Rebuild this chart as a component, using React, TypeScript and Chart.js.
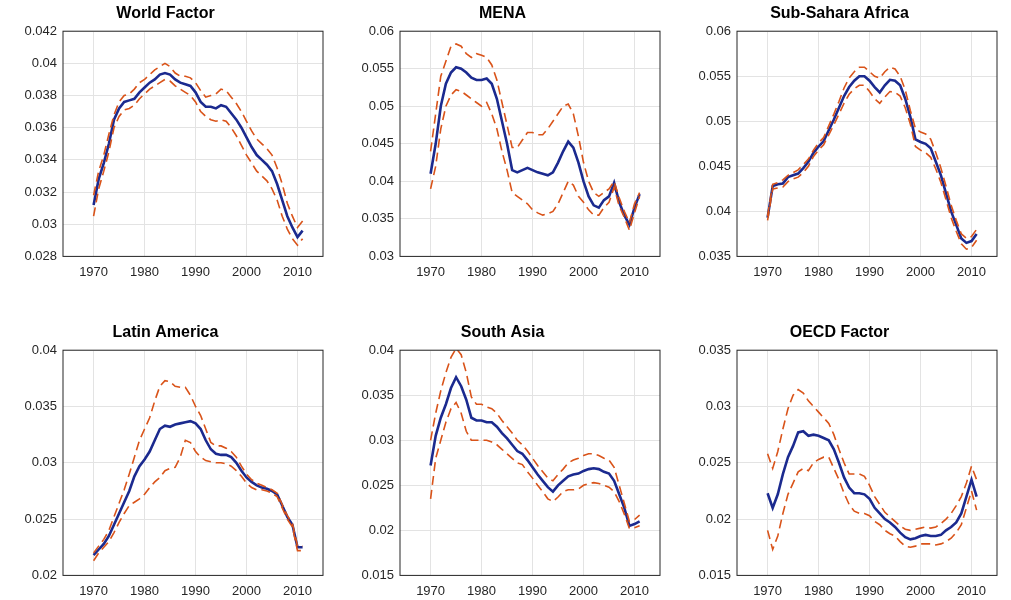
import React, { useRef, useEffect } from "react";
import Chart from "chart.js/auto";

const years = Array.from({ length: 42 }, (_, i) => 1970 + i);

const worldMain = [0.0312,0.0328,0.0338,0.035,0.0365,0.0372,0.0376,0.0377,0.0378,0.0382,0.0385,0.0388,0.039,0.0393,0.0394,0.0393,0.039,0.0388,0.0387,0.0386,0.0382,0.0376,0.0373,0.0373,0.0372,0.0374,0.0373,0.0369,0.0365,0.036,0.0354,0.0348,0.0343,0.034,0.0337,0.0333,0.0325,0.0315,0.0305,0.0298,0.0292,0.0296];
const worldUp = [0.0318,0.0333,0.0343,0.0356,0.0368,0.0376,0.038,0.0381,0.0384,0.0388,0.039,0.0393,0.0396,0.0398,0.04,0.0398,0.0394,0.0392,0.0392,0.0391,0.0388,0.0383,0.0379,0.038,0.0381,0.0384,0.0383,0.0379,0.0375,0.037,0.0364,0.0358,0.0353,0.035,0.0347,0.0343,0.0335,0.0325,0.0313,0.0305,0.0298,0.0302];
const worldLo = [0.0305,0.0322,0.0333,0.0345,0.036,0.0367,0.0371,0.0372,0.0374,0.0378,0.0381,0.0384,0.0386,0.0388,0.039,0.0389,0.0386,0.0384,0.0382,0.038,0.0376,0.037,0.0367,0.0365,0.0364,0.0365,0.0364,0.036,0.0355,0.0349,0.0343,0.0338,0.0333,0.033,0.0327,0.0322,0.0315,0.0305,0.0297,0.0291,0.0287,0.0291];

const menaMain = [0.041,0.045,0.05,0.053,0.0545,0.0552,0.055,0.0545,0.0538,0.0535,0.0535,0.0537,0.053,0.051,0.048,0.045,0.0415,0.0412,0.0415,0.0418,0.0415,0.0412,0.041,0.0408,0.0412,0.0425,0.044,0.0453,0.0445,0.0425,0.04,0.038,0.0368,0.0365,0.0375,0.038,0.0398,0.0372,0.0355,0.0342,0.0365,0.0383];
const menaUp = [0.044,0.049,0.054,0.056,0.058,0.0583,0.058,0.057,0.0565,0.057,0.0568,0.0565,0.0555,0.0535,0.0505,0.0475,0.0445,0.0445,0.0455,0.0465,0.0465,0.0462,0.0462,0.047,0.048,0.049,0.05,0.0503,0.049,0.046,0.0425,0.04,0.0385,0.038,0.0385,0.039,0.04,0.0378,0.036,0.0345,0.037,0.0385];
const menaLo = [0.039,0.042,0.047,0.05,0.0515,0.0522,0.052,0.0515,0.051,0.0505,0.05,0.0505,0.049,0.047,0.044,0.0415,0.0385,0.038,0.0375,0.037,0.0362,0.0358,0.0355,0.0357,0.036,0.037,0.0385,0.04,0.0395,0.038,0.0372,0.0362,0.0355,0.0355,0.0365,0.0372,0.0392,0.0367,0.0352,0.0335,0.0358,0.038];

const ssaMain = [0.0393,0.0428,0.043,0.0431,0.0438,0.044,0.0442,0.0448,0.0455,0.0465,0.0472,0.0478,0.049,0.0502,0.0515,0.0528,0.0538,0.0545,0.055,0.055,0.0545,0.0538,0.0532,0.054,0.0546,0.0545,0.054,0.0525,0.0505,0.048,0.0477,0.0475,0.047,0.0455,0.044,0.042,0.04,0.0385,0.037,0.0365,0.0367,0.0375];
const ssaUp = [0.0395,0.043,0.0432,0.0435,0.044,0.0443,0.0446,0.0452,0.0458,0.0468,0.0476,0.0482,0.0495,0.0508,0.0522,0.0537,0.0548,0.0555,0.056,0.056,0.0555,0.055,0.0548,0.0555,0.056,0.0558,0.055,0.0535,0.0512,0.0492,0.0488,0.0486,0.048,0.0465,0.0448,0.0428,0.0407,0.039,0.0375,0.037,0.0372,0.038];
const ssaLo = [0.039,0.0425,0.0426,0.0427,0.0433,0.0436,0.0438,0.0443,0.045,0.0461,0.0468,0.0474,0.0485,0.0496,0.0508,0.052,0.053,0.0536,0.054,0.054,0.0533,0.0525,0.052,0.0527,0.0533,0.0532,0.0528,0.0515,0.0497,0.0472,0.0468,0.0465,0.046,0.0447,0.0432,0.0413,0.0393,0.0378,0.0364,0.0358,0.036,0.0368];

const latMain = [0.0218,0.0223,0.0228,0.0235,0.0245,0.0255,0.0265,0.0275,0.0288,0.0297,0.0303,0.031,0.032,0.033,0.0333,0.0332,0.0334,0.0335,0.0336,0.0337,0.0335,0.033,0.032,0.0312,0.0308,0.0307,0.0307,0.0305,0.03,0.0293,0.0287,0.0283,0.028,0.0278,0.0277,0.0275,0.0272,0.0262,0.0252,0.0245,0.0225,0.0225];
const latUp = [0.022,0.0226,0.0232,0.024,0.0252,0.0264,0.0276,0.029,0.0305,0.032,0.033,0.034,0.0355,0.0368,0.0373,0.0372,0.0368,0.0367,0.0367,0.036,0.035,0.0342,0.033,0.0318,0.0315,0.0315,0.0313,0.031,0.0305,0.0297,0.029,0.0285,0.0282,0.028,0.0278,0.0276,0.0273,0.0263,0.0253,0.0246,0.0226,0.0226];
const latLo = [0.0213,0.022,0.0225,0.023,0.0238,0.0247,0.0255,0.0262,0.0265,0.0268,0.0272,0.0278,0.0283,0.0287,0.0293,0.0295,0.0296,0.0305,0.032,0.0318,0.031,0.0305,0.0302,0.0301,0.03,0.03,0.0299,0.0297,0.0293,0.0288,0.0282,0.0278,0.0276,0.0276,0.0275,0.0273,0.027,0.026,0.025,0.0243,0.0222,0.0222];

const saMain = [0.0272,0.0305,0.0325,0.034,0.0358,0.037,0.036,0.0345,0.0325,0.0322,0.0322,0.032,0.032,0.0315,0.0308,0.0302,0.0295,0.0288,0.0285,0.0278,0.027,0.0262,0.0255,0.0248,0.0243,0.025,0.0255,0.026,0.0262,0.0263,0.0266,0.0268,0.0269,0.0268,0.0265,0.0263,0.0255,0.024,0.0225,0.0205,0.0207,0.021];
const saUp = [0.03,0.033,0.0355,0.0375,0.0392,0.0402,0.0395,0.0375,0.0348,0.034,0.034,0.0337,0.0335,0.033,0.0322,0.0315,0.0308,0.03,0.0295,0.0288,0.028,0.0272,0.0265,0.0258,0.0255,0.0262,0.0268,0.0275,0.0278,0.028,0.0283,0.0285,0.0285,0.0283,0.028,0.0278,0.027,0.025,0.023,0.021,0.0212,0.0217];
const saLo = [0.0235,0.028,0.03,0.032,0.0335,0.0342,0.033,0.031,0.03,0.03,0.03,0.03,0.0298,0.0295,0.029,0.0285,0.028,0.0275,0.0273,0.0265,0.0258,0.025,0.0243,0.0235,0.0232,0.0237,0.0243,0.0245,0.0245,0.0246,0.025,0.0252,0.0253,0.0252,0.025,0.0248,0.0243,0.0232,0.0218,0.0202,0.0203,0.0205];

const oecdMain = [0.0223,0.021,0.0222,0.024,0.0255,0.0265,0.0277,0.0278,0.0274,0.0275,0.0274,0.0272,0.027,0.0262,0.025,0.0237,0.0228,0.0223,0.0223,0.0222,0.0218,0.021,0.0205,0.02,0.0197,0.0193,0.0188,0.0184,0.0182,0.0183,0.0185,0.0186,0.0185,0.0185,0.0186,0.019,0.0193,0.0197,0.0205,0.022,0.0235,0.022];
const oecdUp = [0.0258,0.0245,0.026,0.028,0.0298,0.031,0.0315,0.0312,0.0305,0.03,0.0295,0.029,0.0285,0.0275,0.0262,0.025,0.024,0.024,0.024,0.0238,0.023,0.022,0.0213,0.0206,0.0202,0.0198,0.0194,0.0191,0.019,0.0191,0.0192,0.0193,0.0192,0.0193,0.0196,0.02,0.0205,0.0212,0.022,0.0232,0.0247,0.0235];
const oecdLo = [0.019,0.0173,0.0185,0.0205,0.0222,0.0232,0.0242,0.0245,0.0243,0.025,0.0253,0.0255,0.0255,0.0245,0.0235,0.0223,0.0213,0.0207,0.0205,0.0205,0.0203,0.0198,0.0195,0.019,0.0187,0.0185,0.018,0.0176,0.0175,0.0176,0.0178,0.0178,0.0178,0.0177,0.0178,0.018,0.0183,0.0188,0.0195,0.021,0.0225,0.0208];

const panels = [
  { title: "World Factor", main: worldMain, up: worldUp, lo: worldLo, min: 0.028, max: 0.042, step: 0.002 },
  { title: "MENA", main: menaMain, up: menaUp, lo: menaLo, min: 0.03, max: 0.06, step: 0.005 },
  { title: "Sub-Sahara Africa", main: ssaMain, up: ssaUp, lo: ssaLo, min: 0.035, max: 0.06, step: 0.005 },
  { title: "Latin America", main: latMain, up: latUp, lo: latLo, min: 0.02, max: 0.04, step: 0.005 },
  { title: "South Asia", main: saMain, up: saUp, lo: saLo, min: 0.015, max: 0.04, step: 0.005 },
  { title: "OECD Factor", main: oecdMain, up: oecdUp, lo: oecdLo, min: 0.015, max: 0.035, step: 0.005 },
];

const FONT = "'Liberation Sans', Arial, sans-serif";

const boxPlugin = {
  id: "box",
  afterDraw(chart: any) {
    const { ctx, chartArea: a } = chart;
    ctx.save();
    ctx.strokeStyle = "#262626";
    ctx.lineWidth = 1;
    ctx.strokeRect(a.left, a.top, a.right - a.left, a.bottom - a.top);
    ctx.restore();
  },
};

function Panel({ p, left, top }: { p: any; left: number; top: number }) {
  const ref = useRef<HTMLCanvasElement | null>(null);
  useEffect(() => {
    if (!ref.current) return;
    const pts = (arr: number[]) => arr.map((v, i) => ({ x: years[i], y: v }));
    const dashed = (arr: number[]) => ({
      data: pts(arr),
      borderColor: "#d95319",
      borderWidth: 1.6,
      borderDash: [9, 5],
      pointRadius: 0,
      tension: 0,
    });
    const chart = new Chart(ref.current, {
      type: "line",
      data: {
        datasets: [
          dashed(p.up),
          dashed(p.lo),
          { data: pts(p.main), borderColor: "#1b2a8f", borderWidth: 2.6, pointRadius: 0, tension: 0 },
        ],
      },
      options: {
        animation: false,
        responsive: false,
        layout: { padding: { right: 4 } },
        plugins: {
          legend: { display: false },
          tooltip: { enabled: false },
          title: {
            display: true,
            text: p.title,
            color: "#000",
            font: { family: FONT, size: 16, weight: "bold" },
            padding: { top: 4, bottom: 8 },
          },
        },
        scales: {
          x: {
            type: "linear",
            min: 1964,
            max: 2015,
            afterBuildTicks: (s: any) => {
              s.ticks = [1970, 1980, 1990, 2000, 2010].map((v) => ({ value: v }));
            },
            grid: { color: "#e3e3e3", drawTicks: false },
            border: { display: false },
            ticks: { color: "#262626", font: { family: FONT, size: 13 }, padding: 8, callback: (v: any) => String(v) },
          },
          y: {
            min: p.min,
            max: p.max,
            afterFit: (s: any) => {
              s.width = 55;
            },
            grid: { color: "#e3e3e3", drawTicks: false },
            border: { display: false },
            ticks: {
              stepSize: p.step,
              color: "#262626",
              font: { family: FONT, size: 13 },
              padding: 6,
              callback: (v: any) => String(Number(Number(v).toFixed(4))),
            },
          },
        },
      },
      plugins: [boxPlugin],
    });
    return () => chart.destroy();
  }, [p]);
  return (
    <canvas
      ref={ref}
      width={319}
      height={288}
      style={{ position: "absolute", left, top, width: 319, height: 288 }}
    />
  );
}

export default function App() {
  const lefts = [8, 345, 682];
  const tops = [0, 319];
  return (
    <div style={{ position: "fixed", left: 0, top: 0, width: 1011, height: 600, background: "#fff" }}>
      {panels.map((p, i) => (
        <Panel key={p.title} p={p} left={lefts[i % 3]} top={tops[Math.floor(i / 3)]} />
      ))}
    </div>
  );
}
